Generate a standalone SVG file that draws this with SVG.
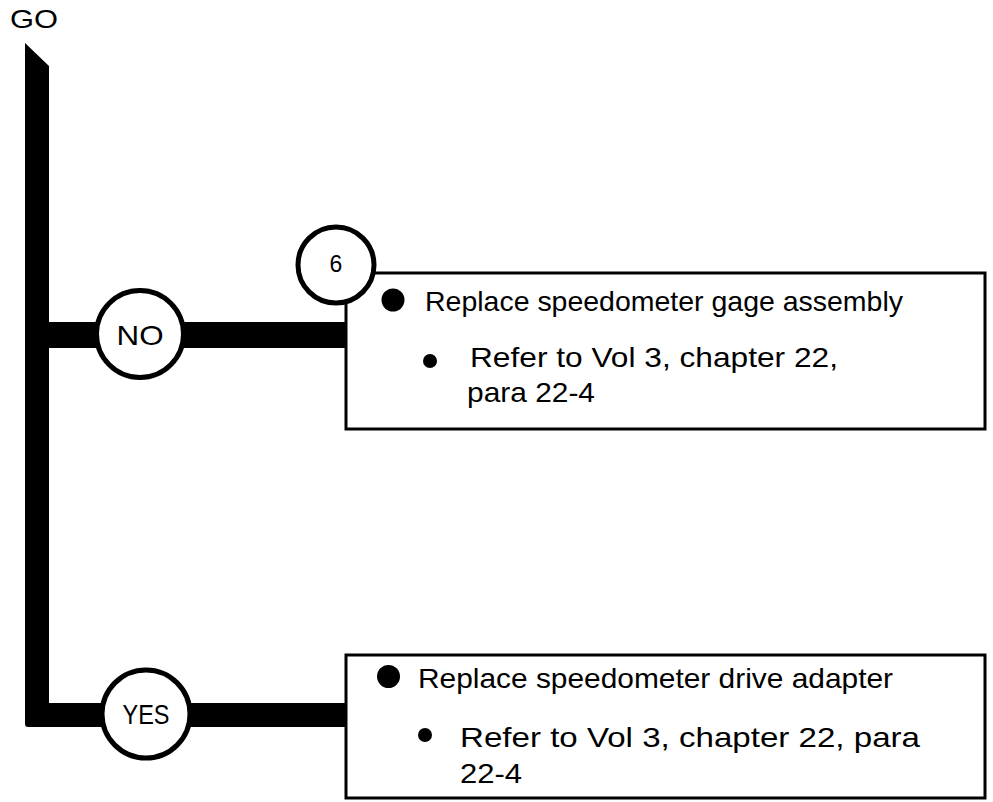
<svg xmlns="http://www.w3.org/2000/svg" width="993" height="802" viewBox="0 0 993 802">
  <style>
    .txt { font-family: "Liberation Sans", Arial, sans-serif; fill: #000; }
    .big { font-size: 28px; }
    .lbl { font-size: 28px; text-anchor: middle; }
    .ring { fill: #fff; stroke: #000; stroke-width: 5; }
    .box { fill: #fff; stroke: #000; stroke-width: 3; }
    .bar { fill: #000; }
  </style>
  <rect width="993" height="802" fill="#fff"/>

  <g id="connectors">
    <path class="bar" d="M25,43 L49,66 L49,703 L347,703 L347,727 L28,727 Q25,727 25,724 Z"/>
    <rect class="bar" x="49" y="322" width="298" height="26"/>
  </g>

  <g id="start">
    <text class="txt" x="10" y="28" font-size="26" textLength="48" lengthAdjust="spacingAndGlyphs">GO</text>
  </g>

  <g id="decision-no">
    <circle class="ring" cx="140" cy="334" r="43.5"/>
    <text class="txt lbl" x="140" y="345" textLength="47" lengthAdjust="spacingAndGlyphs">NO</text>
  </g>

  <g id="decision-yes">
    <circle class="ring" cx="146" cy="714" r="44"/>
    <text class="txt lbl" x="146" y="724" textLength="47" lengthAdjust="spacingAndGlyphs">YES</text>
  </g>

  <g id="action-no">
    <rect class="box" x="346" y="273" width="639" height="156"/>
    <circle class="ring" cx="336" cy="265" r="38" stroke-width="4.5"/>
    <text class="txt" x="336" y="272" font-size="23" text-anchor="middle">6</text>
    <circle cx="393" cy="300" r="11.5" fill="#000"/>
    <text class="txt big" x="425" y="311" textLength="478" lengthAdjust="spacingAndGlyphs">Replace speedometer gage assembly</text>
    <circle cx="430" cy="361" r="7" fill="#000"/>
    <text class="txt big" x="470" y="367" textLength="368" lengthAdjust="spacingAndGlyphs">Refer to Vol 3, chapter 22,</text>
    <text class="txt big" x="467" y="402" textLength="128" lengthAdjust="spacingAndGlyphs">para 22-4</text>
  </g>

  <g id="action-yes">
    <rect class="box" x="346" y="655" width="639" height="143"/>
    <circle cx="388.5" cy="676.5" r="11.5" fill="#000"/>
    <text class="txt big" x="418" y="688" textLength="475" lengthAdjust="spacingAndGlyphs">Replace speedometer drive adapter</text>
    <circle cx="425" cy="735" r="7" fill="#000"/>
    <text class="txt big" x="460" y="747" textLength="460" lengthAdjust="spacingAndGlyphs">Refer to Vol 3, chapter 22, para</text>
    <text class="txt big" x="460" y="783" textLength="62" lengthAdjust="spacingAndGlyphs">22-4</text>
  </g>
</svg>
